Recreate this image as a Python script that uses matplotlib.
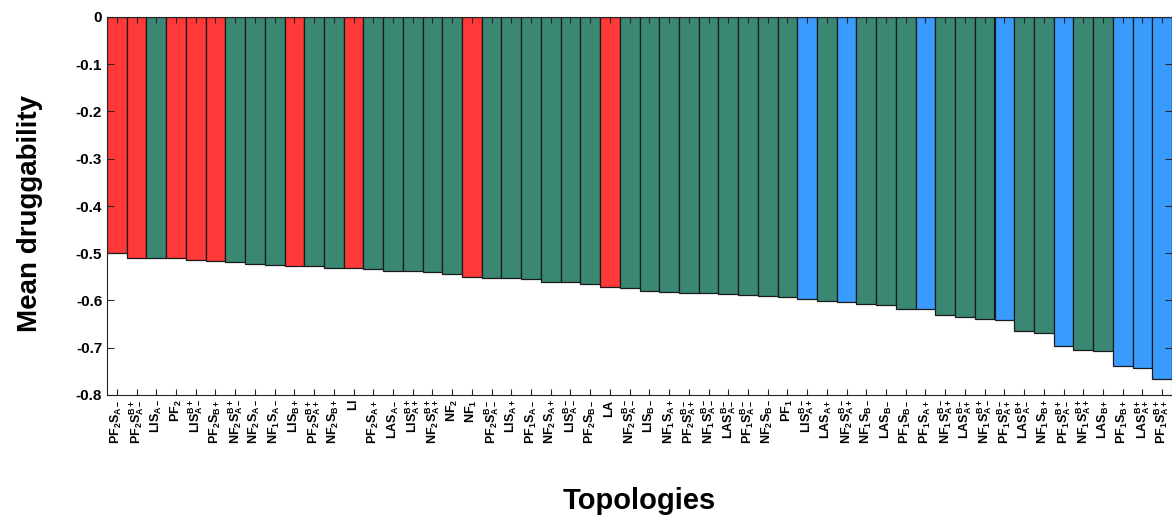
import matplotlib
matplotlib.use("Agg")
import matplotlib.pyplot as plt
from matplotlib.ticker import MultipleLocator

plt.rcParams['font.family'] = ['Liberation Sans', 'DejaVu Sans']
plt.rcParams['font.weight'] = 'bold'
plt.rcParams['axes.unicode_minus'] = False
plt.rcParams['mathtext.fontset'] = 'custom'
plt.rcParams['mathtext.rm'] = 'Liberation Sans:bold'
plt.rcParams['mathtext.it'] = 'Liberation Sans:bold'
plt.rcParams['mathtext.bf'] = 'Liberation Sans:bold'

# Topologies, sorted by mean druggability
labels = [
    r'$\mathrm{PF_2S_{A-}}$', r'$\mathrm{PF_2S^{B+}_{A-}}$', r'$\mathrm{LIS_{A-}}$', r'$\mathrm{PF_2}$',
    r'$\mathrm{LIS^{B+}_{A-}}$', r'$\mathrm{PF_2S_{B+}}$', r'$\mathrm{NF_2S^{B+}_{A-}}$', r'$\mathrm{NF_2S_{A-}}$',
    r'$\mathrm{NF_1S_{A-}}$', r'$\mathrm{LIS_{B+}}$', r'$\mathrm{PF_2S^{B+}_{A+}}$', r'$\mathrm{NF_2S_{B+}}$',
    r'$\mathrm{LI}$', r'$\mathrm{PF_2S_{A+}}$', r'$\mathrm{LAS_{A-}}$', r'$\mathrm{LIS^{B+}_{A+}}$',
    r'$\mathrm{NF_2S^{B+}_{A+}}$', r'$\mathrm{NF_2}$', r'$\mathrm{NF_1}$', r'$\mathrm{PF_2S^{B-}_{A-}}$',
    r'$\mathrm{LIS_{A+}}$', r'$\mathrm{PF_1S_{A-}}$', r'$\mathrm{NF_2S_{A+}}$', r'$\mathrm{LIS^{B-}_{A-}}$',
    r'$\mathrm{PF_2S_{B-}}$', r'$\mathrm{LA}$', r'$\mathrm{NF_2S^{B-}_{A-}}$', r'$\mathrm{LIS_{B-}}$',
    r'$\mathrm{NF_1S_{A+}}$', r'$\mathrm{PF_2S^{B-}_{A+}}$', r'$\mathrm{NF_1S^{B-}_{A-}}$', r'$\mathrm{LAS^{B-}_{A-}}$',
    r'$\mathrm{PF_1S^{B-}_{A-}}$', r'$\mathrm{NF_2S_{B-}}$', r'$\mathrm{PF_1}$', r'$\mathrm{LIS^{B-}_{A+}}$',
    r'$\mathrm{LAS_{A+}}$', r'$\mathrm{NF_2S^{B-}_{A+}}$', r'$\mathrm{NF_1S_{B-}}$', r'$\mathrm{LAS_{B-}}$',
    r'$\mathrm{PF_1S_{B-}}$', r'$\mathrm{PF_1S_{A+}}$', r'$\mathrm{NF_1S^{B-}_{A+}}$', r'$\mathrm{LAS^{B-}_{A+}}$',
    r'$\mathrm{NF_1S^{B+}_{A-}}$', r'$\mathrm{PF_1S^{B-}_{A+}}$', r'$\mathrm{LAS^{B+}_{A-}}$', r'$\mathrm{NF_1S_{B+}}$',
    r'$\mathrm{PF_1S^{B+}_{A-}}$', r'$\mathrm{NF_1S^{B+}_{A+}}$', r'$\mathrm{LAS_{B+}}$', r'$\mathrm{PF_1S_{B+}}$',
    r'$\mathrm{LAS^{B+}_{A+}}$', r'$\mathrm{PF_1S^{B+}_{A+}}$',
]

druggability = [
    -0.499, -0.509, -0.510, -0.511, -0.514, -0.517, -0.519, -0.523, -0.525, -0.527,
    -0.528, -0.531, -0.531, -0.534, -0.538, -0.538, -0.539, -0.543, -0.550, -0.552,
    -0.552, -0.555, -0.560, -0.561, -0.566, -0.571, -0.573, -0.580, -0.581, -0.585,
    -0.585, -0.586, -0.589, -0.591, -0.593, -0.597, -0.602, -0.604, -0.607, -0.610,
    -0.618, -0.619, -0.631, -0.635, -0.640, -0.642, -0.665, -0.668, -0.697, -0.705,
    -0.706, -0.739, -0.743, -0.766,
]

# r = red, g = green, b = blue
group = list('rrgrrrgggrggrgggggrggggggrggggggggg' 'bgbgg' 'gbggg' 'bggbggbbb')

cores = {'r': '#ff3838', 'g': '#3a8874', 'b': '#3a9bff'}
cor_barras = [cores[g] for g in group]

fig = plt.figure(figsize=(11.72, 5.15), dpi=100)
ax = fig.add_axes([107 / 1172, 120 / 515, 1 - 107 / 1172, 378 / 515])

x = list(range(1, len(druggability) + 1))
ax.bar(x, druggability, width=1.0, color=cor_barras, edgecolor='#1a1a1a', linewidth=0.9)

ax.set_xlim(0.5, len(druggability) + 0.5)
ax.set_ylim(-0.8, 0)
ax.yaxis.set_major_locator(MultipleLocator(0.1))
ax.set_yticklabels(['%g' % round(v, 1) for v in ax.get_yticks()])
ax.set_xticks(x)
ax.set_xticklabels(labels, rotation=90, fontsize=9)
ax.tick_params(axis='y', labelsize=11, direction='in', right=True, length=5, width=0.8, colors='#262626', labelcolor='black')
ax.tick_params(axis='x', direction='in', top=True, length=4, width=0.8, colors='#262626', labelcolor='black', pad=3)
for s in ax.spines.values():
    s.set_color('#262626')
    s.set_linewidth(0.8)

ax.set_ylabel('Mean druggability', fontsize=20, fontweight='bold')
ax.yaxis.set_label_coords(-0.06, 0.48)
ax.set_xlabel('Topologies', fontsize=21, fontweight='bold')
ax.xaxis.set_label_coords(0.5, -0.243)

fig.savefig('out.png', dpi=100)
